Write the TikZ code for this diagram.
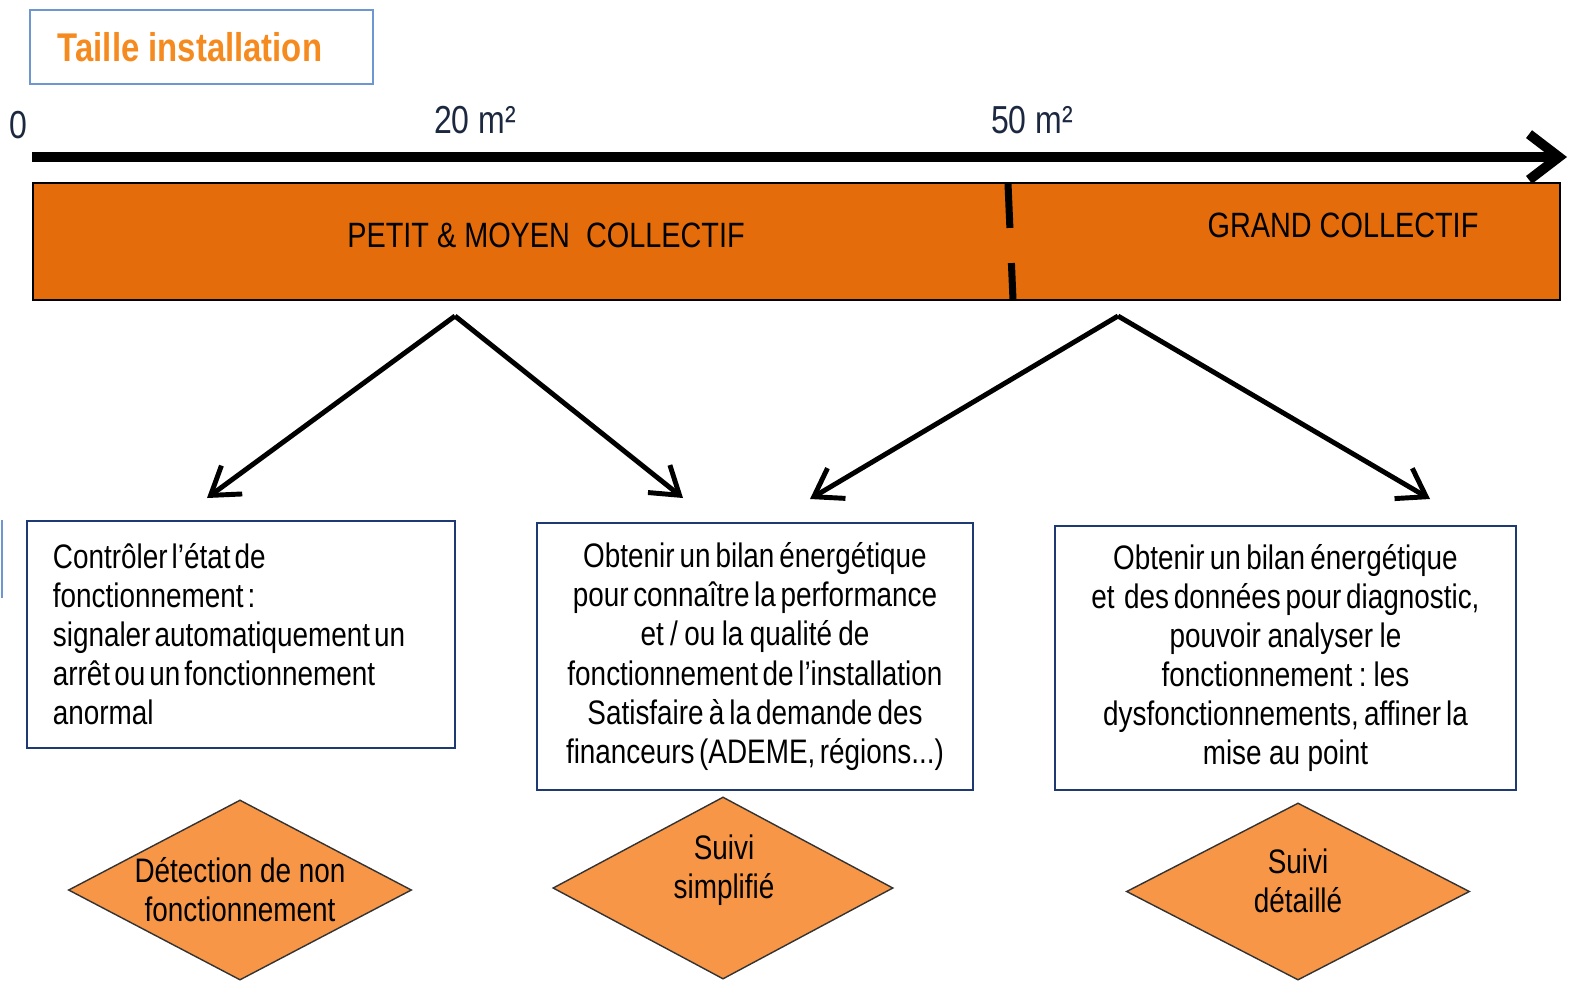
\documentclass[tikz,border=0pt]{standalone}
\usepackage{fontspec}
\setmainfont{Liberation Sans}[FakeStretch=0.82]
\usetikzlibrary{arrows.meta,shapes.geometric}
\definecolor{barorange}{HTML}{E46C0A}
\definecolor{diaorange}{HTML}{F79646}
\definecolor{titleorange}{HTML}{F58A1F}
\definecolor{titleblue}{HTML}{6E96D0}
\definecolor{boxnavy}{HTML}{1F3A73}
\definecolor{labelnavy}{HTML}{1C2840}
\newcommand{\tightspace}{\spaceskip=0.12em plus 0.05em\xspaceskip=0.14em plus 0.05em\relax}
\tikzset{
  infobox/.style={draw=boxnavy,line width=0.6pt,inner ysep=0pt,
    font=\fontsize{9.67pt}{11.1pt}\selectfont,execute at begin node=\tightspace},
  choice/.style={diamond,draw=black!80,fill=diaorange,line width=0.4pt,inner sep=0pt},
  dtext/.style={align=center,font=\fontsize{9.67pt}{11.1pt}\selectfont},
  sizelabel/.style={text=labelnavy,font=\fontsize{11.1pt}{13pt}\selectfont},
  bartext/.style={font=\fontsize{10pt}{12pt}\selectfont},
  pointer/.style={-{Straight Barb[length=7.5pt,width=10pt]},line width=1.4pt},
}

\begin{document}
\begin{tikzpicture}[x=0.01cm,y=-0.01cm]
\useasboundingbox (0,0) rectangle (1570,981);
% TITLE
\draw [titleblue,line width=0.6pt] (30,10) rectangle (373,84);
\node [text=titleorange,font=\fontsize{11.4pt}{13pt}\selectfont\bfseries] (title) at (190,47) {Taille installation};
% SIZE AXIS
\node [sizelabel] (zero) at (18,125) {0};
\node [sizelabel] (twenty) at (475,120) {20 m²};
\node [sizelabel] (fifty) at (1032,120) {50 m²};
\coordinate (axstart) at (32,157);
\coordinate (axend) at (1567,157);
\draw [-{Straight Barb[length=8.5pt,width=13pt]},line width=2.8pt] (axstart) -- (axend);
% CATEGORY BAR
\draw [fill=barorange,line width=0.5pt] (33,183) rectangle (1560,300);
\draw [line width=2pt,dash pattern=on 12.5pt off 10pt] (1008,184) -- (1013,300);
\node [bartext] (small) at (546,235) {PETIT \& MOYEN\ \ COLLECTIF};
\node [bartext] (large) at (1343,225) {GRAND COLLECTIF};
% POINTERS
\coordinate (fork1) at (455,316);
\coordinate (fork2) at (1118,316);
\coordinate (tip1) at (207,498);
\coordinate (tip2) at (683,498);
\coordinate (tip3) at (810,499);
\coordinate (tip4) at (1430,499);
\draw [pointer] (fork1) -- (tip1);
\draw [pointer] (fork1) -- (tip2);
\draw [pointer] (fork2) -- (tip3);
\draw [pointer] (fork2) -- (tip4);
% LEFT EDGE FRAGMENT
\draw [titleblue,line width=0.6pt] (2,520) -- (2,598);
% GOALS
\node [infobox,align=left,text width=3.76cm,inner xsep=0.26cm,minimum height=2.27cm] (goal1) at (241,634.5)
  {Contrôler l'état de\\fonctionnement :\\signaler automatiquement un\\arrêt ou un fonctionnement\\anormal};
\node [infobox,align=center,text width=4.16cm,inner xsep=0.1cm,minimum height=2.67cm] (goal2) at (755,656.5)
  {Obtenir un bilan énergétique\\pour connaître la performance\\et / ou la qualité de\\fonctionnement de l'installation\\Satisfaire à la demande des\\financeurs (ADEME, régions...)};
\node [infobox,align=center,text width=4.41cm,inner xsep=0.1cm,minimum height=2.64cm] (goal3) at (1285.5,658)
  {Obtenir un bilan énergétique\\et\ \ des données pour diagnostic,\\pouvoir analyser le\\fonctionnement : les\\dysfonctionnements, affiner la\\mise au point};
% MONITORING LEVELS
\node [choice,minimum width=3.43cm,minimum height=1.80cm] (level1) at (240,890) {};
\node [choice,minimum width=3.40cm,minimum height=1.82cm] (level2) at (723,888) {};
\node [choice,minimum width=3.43cm,minimum height=1.77cm] (level3) at (1298,891.5) {};
\node [dtext] (name1) at (240,889.5) {Détection de non\\fonctionnement};
\node [dtext] (name2) at (724,870) {Suivi\\simplifié};
\node [dtext] (name3) at (1298,880.5) {Suivi\\détaillé};
\end{tikzpicture}
\end{document}
